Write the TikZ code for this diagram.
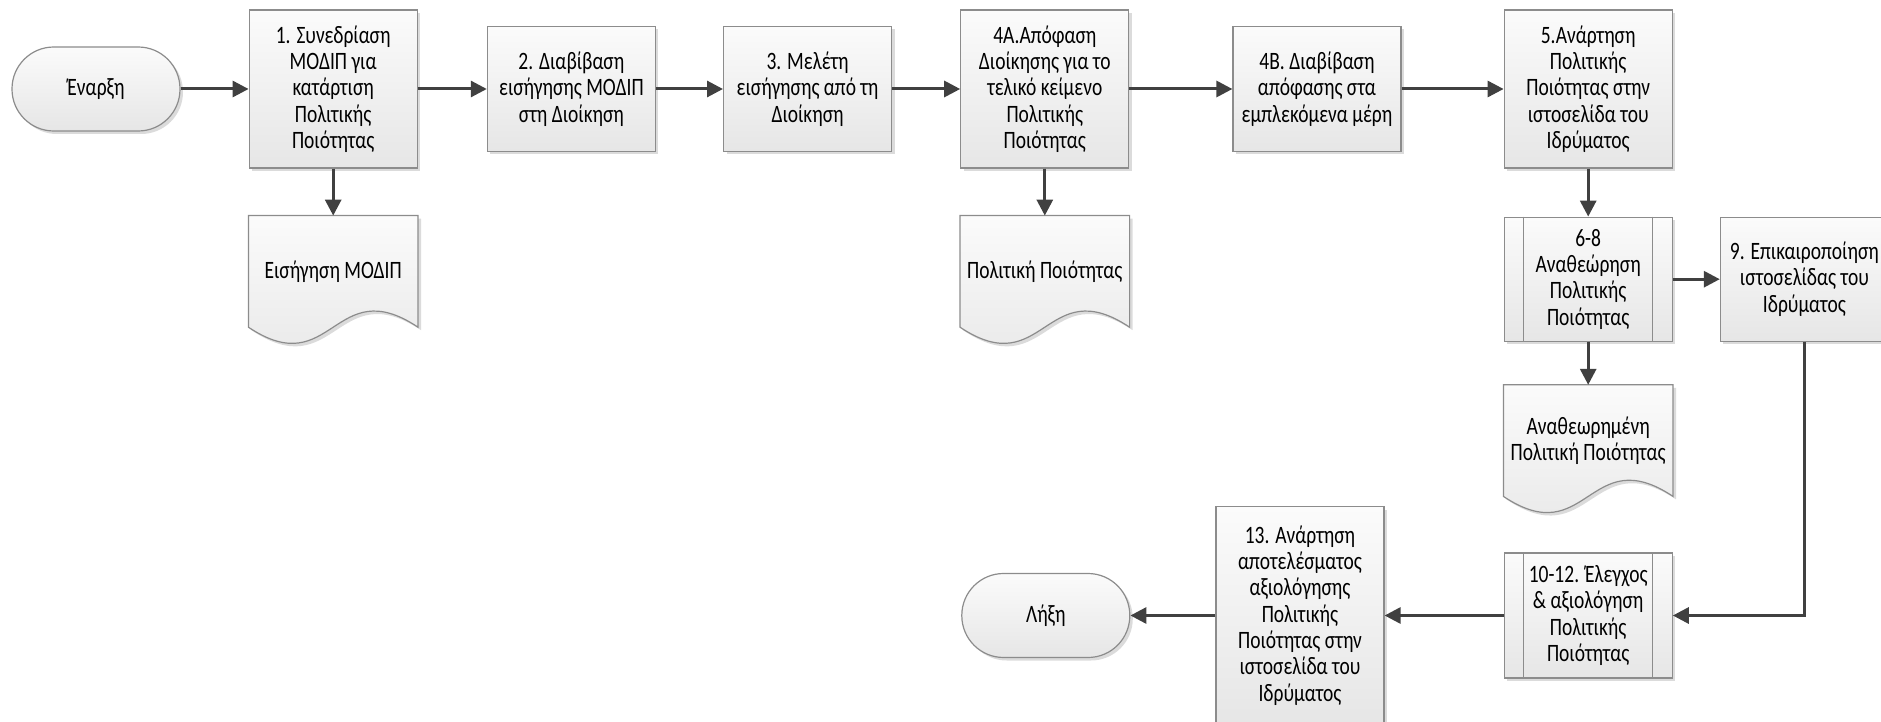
\documentclass[tikz,border=0pt]{standalone}
\usepackage{fontspec}
\setmainfont{Carlito}[FakeStretch=0.78]
\usepackage{tikz}
\usetikzlibrary{arrows.meta, positioning, shadows, backgrounds}
\usepackage{xcolor}
\definecolor{linegray}{RGB}{64, 64, 64}
\definecolor{edgegray}{RGB}{140, 140, 140}
\definecolor{boxtop}{RGB}{251, 251, 251}
\definecolor{boxbottom}{RGB}{230, 230, 230}

\begin{document}
\begin{tikzpicture}[node distance=34pt, thick,
    every node/.style={font=\fontsize{12.5}{13.15}\selectfont, align=center},
    box/.style={draw=edgegray, line width=0.6pt, top color=boxtop, bottom color=boxbottom,
        minimum width=84pt, inner xsep=1pt, inner ysep=2pt,
        drop shadow={shadow xshift=1.5pt, shadow yshift=-1.5pt, fill=black!35, opacity=0.4}},
    tallbox/.style={box, minimum height=79pt},
    shortbox/.style={box, minimum height=62.5pt},
    term/.style={box, minimum height=42pt, rounded corners=20.9pt},
    doc/.style={minimum width=84pt, minimum height=55pt, inner sep=1pt},
    flow/.style={-{Triangle[length=8pt, width=8pt]}, draw=linegray, line width=1.5pt}]

    \useasboundingbox (0,0) rectangle (940.5pt,-361pt);

    % upper row
    \node[term] (start) at (48pt,-44.5pt) {Έναρξη};
    \node[tallbox, right=34pt of start] (s1) {1. Συνεδρίαση\\ΜΟΔΙΠ για\\κατάρτιση\\Πολιτικής\\Ποιότητας};
    \node[shortbox, right=34.5pt of s1] (s2) {2. Διαβίβαση\\εισήγησης ΜΟΔΙΠ\\στη Διοίκηση};
    \node[shortbox, right=33.5pt of s2] (s3) {3. Μελέτη\\εισήγησης από τη\\Διοίκηση};
    \node[tallbox, right=34pt of s3] (s4a) {4Α.Απόφαση\\Διοίκησης για το\\τελικό κείμενο\\Πολιτικής\\Ποιότητας};
    \node[shortbox, right=51.5pt of s4a] (s4b) {4Β. Διαβίβαση\\απόφασης στα\\εμπλεκόμενα μέρη};
    \node[tallbox, right=51pt of s4b] (s5) {5.Ανάρτηση\\Πολιτικής\\Ποιότητας στην\\ιστοσελίδα του\\Ιδρύματος};

    \node[doc, below=23.5pt of s1] (doc1) {Εισήγηση ΜΟΔΙΠ};
    \node[doc, below=23.5pt of s4a] (doc4a) {Πολιτική Ποιότητας};

    % review branch
    \node[box, minimum height=62pt, below=24pt of s5] (s68) {6-8\\Αναθεώρηση\\Πολιτικής\\Ποιότητας};
    \node[box, minimum height=62pt, right=23.5pt of s68] (s9) {9. Επικαιροποίηση\\ιστοσελίδας του\\Ιδρύματος};
    \node[doc, below=21.5pt of s68] (doc68) {Αναθεωρημένη\\Πολιτική Ποιότητας};

    % lower row
    \node[shortbox, below=28pt of doc68] (s1012) {10-12. Έλεγχος\\\& αξιολόγηση\\Πολιτικής\\Ποιότητας};
    \node[box, minimum height=109pt, left=59.5pt of s1012] (s13) {13. Ανάρτηση\\αποτελέσματος\\αξιολόγησης\\Πολιτικής\\Ποιότητας στην\\ιστοσελίδα του\\Ιδρύματος};
    \node[term, left=42.5pt of s13] (stop) {Λήξη};

    % sub-process side bars
    \foreach \p in {s68, s1012} {
        \draw[edgegray, line width=0.6pt] ([xshift=10pt]\p.north west) -- ([xshift=10pt]\p.south west);
        \draw[edgegray, line width=0.6pt] ([xshift=-10pt]\p.north east) -- ([xshift=-10pt]\p.south east);
    }

    % document shapes
    \begin{scope}[on background layer]
        \foreach \d in {doc1, doc4a, doc68}
            \path[draw=edgegray, line width=0.6pt, top color=boxtop, bottom color=boxbottom,
                drop shadow={shadow xshift=1.5pt, shadow yshift=-1.5pt, fill=black!35, opacity=0.4}]
                (\d.south west) -- (\d.north west) -- (\d.north east) -- (\d.south east)
                .. controls +(-42pt,28pt) and +(42pt,-28pt) .. (\d.south west) -- cycle;
    \end{scope}

    \draw[flow] (start) -- (s1);
    \draw[flow] (s1) -- (s2);
    \draw[flow] (s2) -- (s3);
    \draw[flow] (s3) -- (s4a);
    \draw[flow] (s4a) -- (s4b);
    \draw[flow] (s4b) -- (s5);
    \draw[flow] (s1) -- (doc1);
    \draw[flow] (s4a) -- (doc4a);
    \draw[flow] (s5) -- (s68);
    \draw[flow] (s68) -- (s9);
    \draw[flow] (s68) -- (doc68);
    \draw[flow] (s9) |- (s1012);
    \draw[flow] (s1012) -- (s13);
    \draw[flow] (s13) -- (stop);
\end{tikzpicture}
\end{document}
